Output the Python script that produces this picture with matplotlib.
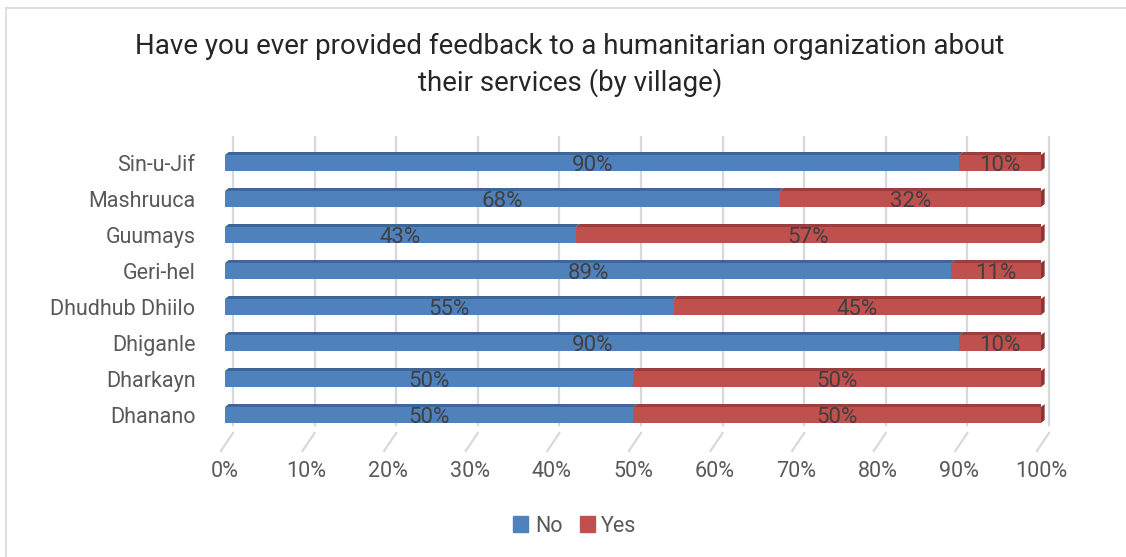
import matplotlib.pyplot as plt
from matplotlib.patches import Polygon
from matplotlib.lines import Line2D
import matplotlib.transforms as mtransforms

plt.rcParams['font.family'] = ['Roboto', 'DejaVu Sans']
plt.rcParams['font.weight'] = 'normal'

# 各村反馈情况（从下到上）
villages = ['Dhanano', 'Dharkayn', 'Dhiganle', 'Dhudhub Dhiilo',
            'Geri-hel', 'Guumays', 'Mashruuca', 'Sin-u-Jif']
no_pct = [50, 50, 90, 55, 89, 43, 68, 90]
yes_pct = [50, 50, 10, 45, 11, 57, 32, 10]
xticks = [0, 10, 20, 30, 40, 50, 60, 70, 80, 90, 100]

blue, blue_top = '#4F81BD', '#3E6798'
red, red_top, red_side = '#C0504D', '#9A3F3D', '#8A3634'
grid_c = '#D9D9D9'

W, H = 1126, 557
fig = plt.figure(figsize=(W / 100, H / 100), dpi=100)
ax = fig.add_axes([225 / W, 124 / H, 816 / W, 288 / H])
ax.set_xlim(0, 100)
ax.set_ylim(-0.5, 7.5)
for s in ax.spines.values():
    s.set_visible(False)

# 网格线画在后墙上（向右上偏移）
back = ax.transData + mtransforms.ScaledTranslation(8 / 100, 8 / 100, fig.dpi_scale_trans)
for x in xticks:
    ax.plot([x, x], [-0.5, 7.5], color=grid_c, lw=1.6, transform=back, zorder=0, clip_on=False)
    # 底面斜线
    ax.plot([x + 0.98, x - 0.5], [-0.5, -0.5 - 10 / 36 - 0.22], color=grid_c, lw=1.6,
            zorder=0, clip_on=False)

h = 16 / 36
dx, dy = 0.45, 3 / 36
for i in range(len(villages)):
    segs = [(0, no_pct[i], blue, blue_top), (no_pct[i], yes_pct[i], red, red_top)]
    for left, w, c, ct in segs:
        ax.barh(i, w, left=left, height=h, color=c, zorder=2)
        top = i + h / 2
        ax.add_patch(Polygon([(left, top), (left + w, top), (left + w + dx, top + dy),
                              (left + dx, top + dy)], closed=True, color=ct, lw=0, zorder=2))
        ax.text(left + w / 2, i - 0.07, f'{w}%', ha='center', va='center',
                fontsize=16, color='#404040', zorder=3)
    # 右侧面
    ax.add_patch(Polygon([(100, i - h / 2), (100, i + h / 2), (100 + dx, i + h / 2 + dy),
                          (100 + dx, i - h / 2 + dy)], closed=True, color=red_side, lw=0,
                         zorder=2, clip_on=False))

ax.set_yticks(range(len(villages)))
ax.set_yticklabels(villages, fontsize=15.5, color='#595959')
ax.set_xticks(xticks)
ax.set_xticklabels([f'{x}%' for x in xticks], fontsize=15.5, color='#595959')
ax.tick_params(length=0)
ax.tick_params(axis='y', pad=27)
ax.tick_params(axis='x', pad=20)
for lbl in ax.get_yticklabels():
    lbl.set_transform(lbl.get_transform() + mtransforms.ScaledTranslation(8 / 100, 0, fig.dpi_scale_trans))

fig.text(570 / W, 1 - 65 / H, 'Have you ever provided feedback to a humanitarian organization about\ntheir services (by village)',
         ha='center', va='center', fontsize=20, color='#262626', linespacing=1.35)

handles = [plt.Rectangle((0, 0), 1, 1, color=blue), plt.Rectangle((0, 0), 1, 1, color=red)]
fig.legend(handles, ['No', 'Yes'], loc='center', bbox_to_anchor=(575 / W, 1 - 526 / H),
           ncol=2, frameon=False, fontsize=15.5, handlelength=0.7, handleheight=0.7,
           handletextpad=0.3, columnspacing=0.8, labelcolor='#595959')

# 外框（上、左）
fig.add_artist(Line2D([6 / W, 1], [1 - 8 / H, 1 - 8 / H], color='#D9D9D9', lw=1.2))
fig.add_artist(Line2D([6 / W, 6 / W], [0, 1 - 8 / H], color='#D9D9D9', lw=1.2))

fig.savefig('out.png', dpi=100)
